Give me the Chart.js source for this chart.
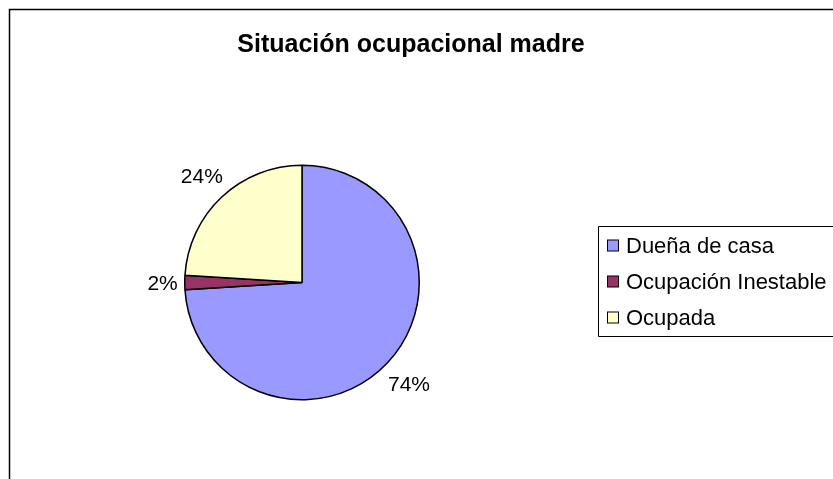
<!DOCTYPE html>
<html>
<head>
<meta charset="utf-8">
<script src="https://cdn.jsdelivr.net/npm/chart.js@4/dist/chart.umd.min.js"></script>
<style>
  html, body { margin: 0; padding: 0; background: #fff; }
  #wrap { width: 833px; height: 479px; position: relative; }
</style>
</head>
<body>
<div id="wrap"><canvas id="pie" width="833" height="479"></canvas></div>
<script>
// Chart data
const titleText = 'Situación ocupacional madre';
const categories = ['Dueña de casa', 'Ocupación Inestable', 'Ocupada'];
const shares = [74, 2, 24];
const sliceColors = ['#9999FF', '#993366', '#FFFFCC'];

const FONT = '"Liberation Sans", Arial, sans-serif';

// Frame, title, percentage labels and legend box (Excel style)
const excelDecor = {
    id: 'excelDecor',
    beforeDraw(chart) {
        const ctx = chart.ctx;
        ctx.save();
        ctx.fillStyle = '#fff';
        ctx.fillRect(0, 0, chart.width, chart.height);
        // outer frame, only left and top are inside the picture
        ctx.strokeStyle = '#000';
        ctx.lineWidth = 1.5;
        ctx.beginPath();
        ctx.moveTo(9.5, chart.height);
        ctx.lineTo(9.5, 9.5);
        ctx.lineTo(chart.width, 9.5);
        ctx.stroke();
        ctx.restore();
    },
    afterDraw(chart) {
        const ctx = chart.ctx;
        ctx.save();

        // title
        ctx.fillStyle = '#000';
        ctx.font = 'bold 25px ' + FONT;
        ctx.textAlign = 'center';
        ctx.textBaseline = 'alphabetic';
        ctx.fillText(titleText, 411, 52);

        // percentage labels just outside the slices
        const labelSize = 21;
        ctx.font = labelSize + 'px ' + FONT;
        const meta = chart.getDatasetMeta(0);
        const total = shares.reduce((a, b) => a + b, 0);
        meta.data.forEach((arc, i) => {
            const mid = (arc.startAngle + arc.endAngle) / 2;
            const pct = Math.round(shares[i] / total * 100) + '%';
            const w = ctx.measureText(pct).width;
            const c = Math.cos(mid), s = Math.sin(mid);
            const r = arc.outerRadius + 7 + Math.abs(c) * w / 2 + Math.abs(s) * labelSize / 2;
            const x = arc.x + c * r;
            const y = arc.y + s * r;
            ctx.fillText(pct, x, y + labelSize * 0.36);
        });

        // legend box
        const lx = 598, ly = 226, lh = 110;
        ctx.strokeStyle = '#000';
        ctx.lineWidth = 1;
        ctx.beginPath();
        ctx.moveTo(chart.width, ly + 0.5);
        ctx.lineTo(lx + 0.5, ly + 0.5);
        ctx.lineTo(lx + 0.5, ly + lh + 0.5);
        ctx.lineTo(chart.width, ly + lh + 0.5);
        ctx.stroke();

        ctx.font = '22px ' + FONT;
        ctx.textAlign = 'left';
        categories.forEach((name, i) => {
            const base = 252.5 + i * 36;
            ctx.fillStyle = sliceColors[i];
            ctx.fillRect(607.5, base - 12.5, 11, 11);
            ctx.strokeStyle = '#000';
            ctx.strokeRect(607.5, base - 12.5, 11, 11);
            ctx.fillStyle = '#000';
            ctx.fillText(name, 626, base);
        });

        ctx.restore();
    }
};

new Chart(document.getElementById('pie'), {
    type: 'pie',
    data: {
        labels: categories,
        datasets: [{
            data: shares,
            backgroundColor: sliceColors,
            borderColor: '#000',
            borderWidth: 1.5
        }]
    },
    options: {
        responsive: false,
        animation: false,
        events: [],
        layout: {
            padding: { left: 184, right: 413, top: 164, bottom: 78 }
        },
        plugins: {
            legend: { display: false },
            title: { display: false },
            tooltip: { enabled: false }
        }
    },
    plugins: [excelDecor]
});
</script>
</body>
</html>
